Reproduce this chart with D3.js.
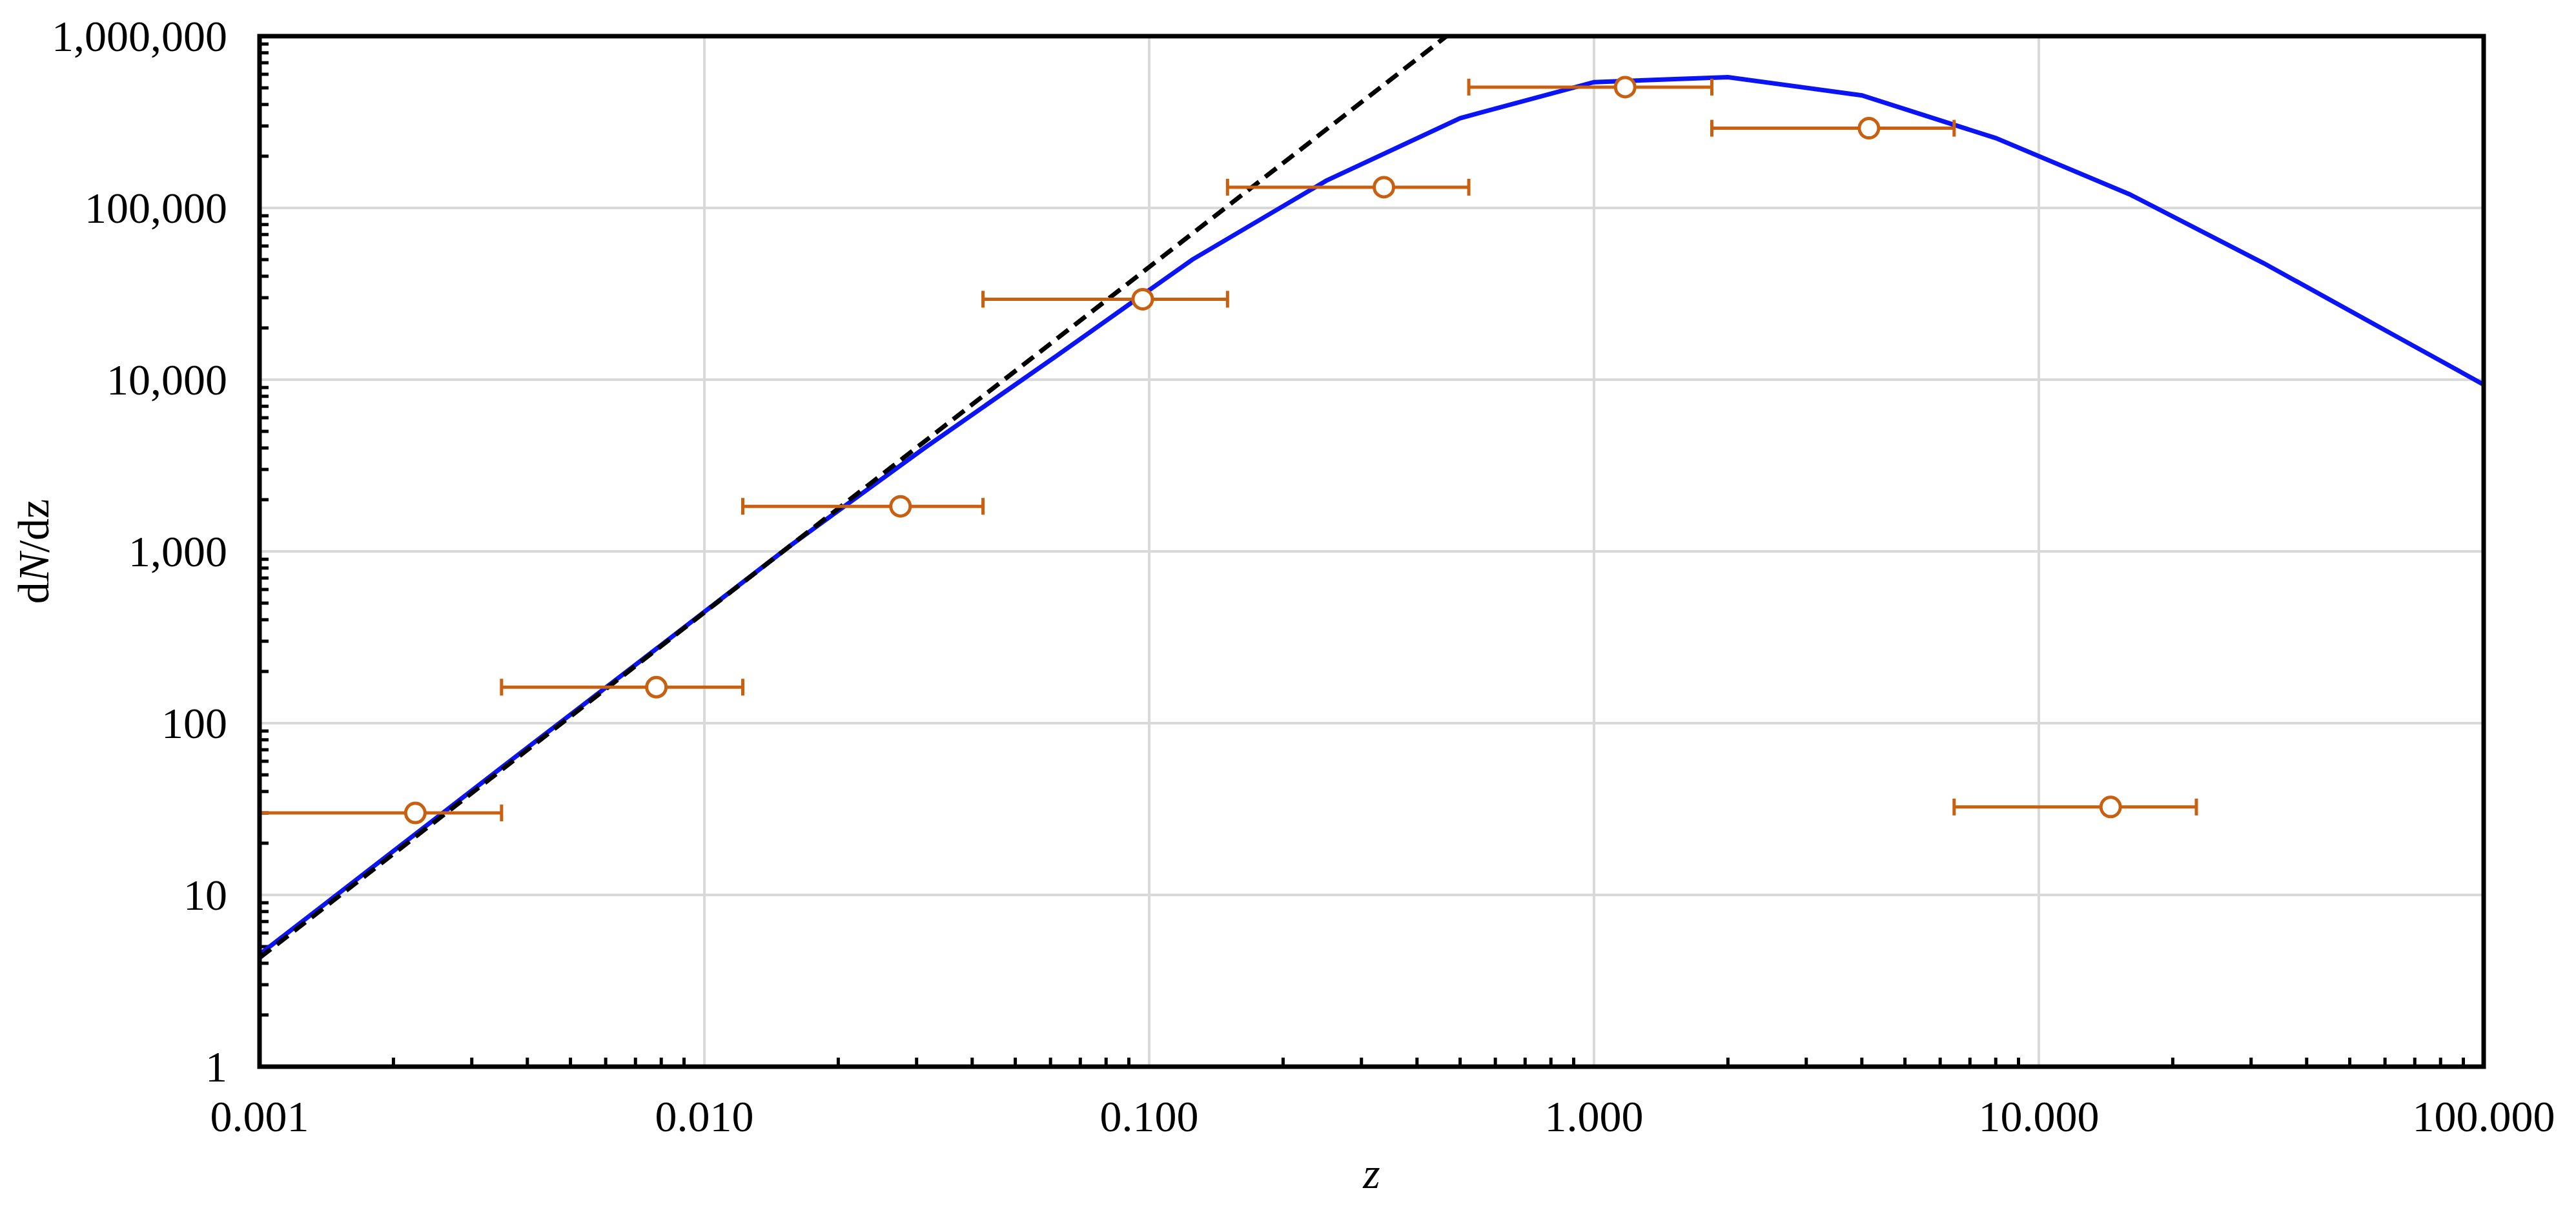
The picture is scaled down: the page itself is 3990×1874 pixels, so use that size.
<!DOCTYPE html>
<html><head><meta charset="utf-8">
<script src="https://cdn.jsdelivr.net/npm/d3@7"></script>
<style>body{margin:0;background:#fff}text{font-family:"Times New Roman","Liberation Serif",Tinos,"DejaVu Serif",serif}</style>
</head><body><svg id="c" width="3990" height="1874"></svg>
<script>
const modelZ=[0.001,0.002,0.004,0.008,0.0156,0.03125,0.0625,0.125,0.25,0.5,1,2,4,8,16,32,64,100];
const modelN=[4.5,18,72,285,1080,4000,14000,50000,144000,333000,540000,577000,452000,255000,120000,47700,17700,9360];
const fitZ=[0.001,0.466];
const fitN=[4.3,1000000];
const obsZ=[0.00224,0.0078,0.0276,0.0967,0.337,1.175,4.15,14.5];
const obsN=[30,162,1830,29400,132000,505000,291000,32.5];
const obsLo=[0.001,0.0035,0.0122,0.0423,0.150,0.523,1.84,6.45];
const obsHi=[0.0035,0.0122,0.0423,0.150,0.523,1.84,6.45,22.6];
const xTicks=[0.001,0.01,0.1,1,10,100];
const yTicks=[1,10,100,1000,10000,100000,1000000];

const L=402,R=3847,T=56,B=1652;
const svg=d3.select("#c");
const x=d3.scaleLog().domain([0.001,100]).range([L,R]);
const y=d3.scaleLog().domain([1,1e6]).range([B,T]);
svg.append("g").selectAll("line").data(xTicks.slice(1,-1)).join("line")
 .attr("x1",d=>x(d)).attr("x2",d=>x(d)).attr("y1",T).attr("y2",B).attr("stroke","#d9d9d9").attr("stroke-width",4);
svg.append("g").selectAll("line").data(yTicks.slice(1,-1)).join("line")
 .attr("y1",d=>y(d)).attr("y2",d=>y(d)).attr("x1",L).attr("x2",R).attr("stroke","#d9d9d9").attr("stroke-width",4);
const minX=[],minY=[];
for(let e=-3;e<2;e++)for(let k=2;k<10;k++)minX.push(k*10**e);
for(let e=0;e<6;e++)for(let k=2;k<10;k++)minY.push(k*10**e);
svg.append("g").selectAll("line").data(minX).join("line")
 .attr("x1",d=>x(d)).attr("x2",d=>x(d)).attr("y1",B).attr("y2",B-14).attr("stroke","#000").attr("stroke-width",5);
svg.append("g").selectAll("line").data(minY).join("line")
 .attr("y1",d=>y(d)).attr("y2",d=>y(d)).attr("x1",L).attr("x2",L+14).attr("stroke","#000").attr("stroke-width",5);
const fx=d3.format(".3f"), fy=d3.format(",");
svg.append("g").selectAll("text").data(xTicks).join("text")
 .attr("x",d=>x(d)).attr("y",B+100).attr("text-anchor","middle").attr("font-size",68).text(d=>fx(d));
svg.append("g").selectAll("text").data(yTicks).join("text")
 .attr("x",L-50).attr("y",d=>y(d)+23).attr("text-anchor","end").attr("font-size",68).text(d=>fy(d));
svg.append("text").attr("x",(L+R)/2).attr("y",1840).attr("text-anchor","middle").attr("font-size",68).attr("font-style","italic").text("z");
const yt=svg.append("text").attr("transform",`translate(75,${(T+B)/2}) rotate(-90)`).attr("text-anchor","middle").attr("font-size",68);
yt.append("tspan").text("d");yt.append("tspan").attr("font-style","italic").text("N");yt.append("tspan").text("/dz");
svg.append("clipPath").attr("id","cp").append("rect").attr("x",L).attr("y",T).attr("width",R-L).attr("height",B-T);
const g=svg.append("g").attr("clip-path","url(#cp)");
const line=d3.line().x(d=>x(d[0])).y(d=>y(d[1]));
g.append("path").attr("d",line(modelZ.map((z,i)=>[z,modelN[i]]))).attr("fill","none").attr("stroke","#0a14f5").attr("stroke-width",7);
g.append("path").attr("d",line(fitZ.map((z,i)=>[z,fitN[i]]))).attr("fill","none").attr("stroke","#000").attr("stroke-width",7).attr("stroke-dasharray","22,12");
const oc="#c9600f";
const eb=g.append("g");
obsZ.forEach((z,i)=>{
 const yy=y(obsN[i]);
 eb.append("line").attr("x1",x(obsLo[i])).attr("x2",x(obsHi[i])).attr("y1",yy).attr("y2",yy).attr("stroke",oc).attr("stroke-width",5);
 [obsLo[i],obsHi[i]].forEach(v=>eb.append("line").attr("x1",x(v)).attr("x2",x(v)).attr("y1",yy-13).attr("y2",yy+13).attr("stroke",oc).attr("stroke-width",5));
});
g.append("g").selectAll("circle").data(obsZ).join("circle").attr("cx",d=>x(d)).attr("cy",(d,i)=>y(obsN[i])).attr("r",15)
 .attr("fill","#fff").attr("stroke",oc).attr("stroke-width",5);
svg.append("rect").attr("x",L).attr("y",T).attr("width",R-L).attr("height",B-T).attr("fill","none").attr("stroke","#000").attr("stroke-width",7);
</script></body></html>
